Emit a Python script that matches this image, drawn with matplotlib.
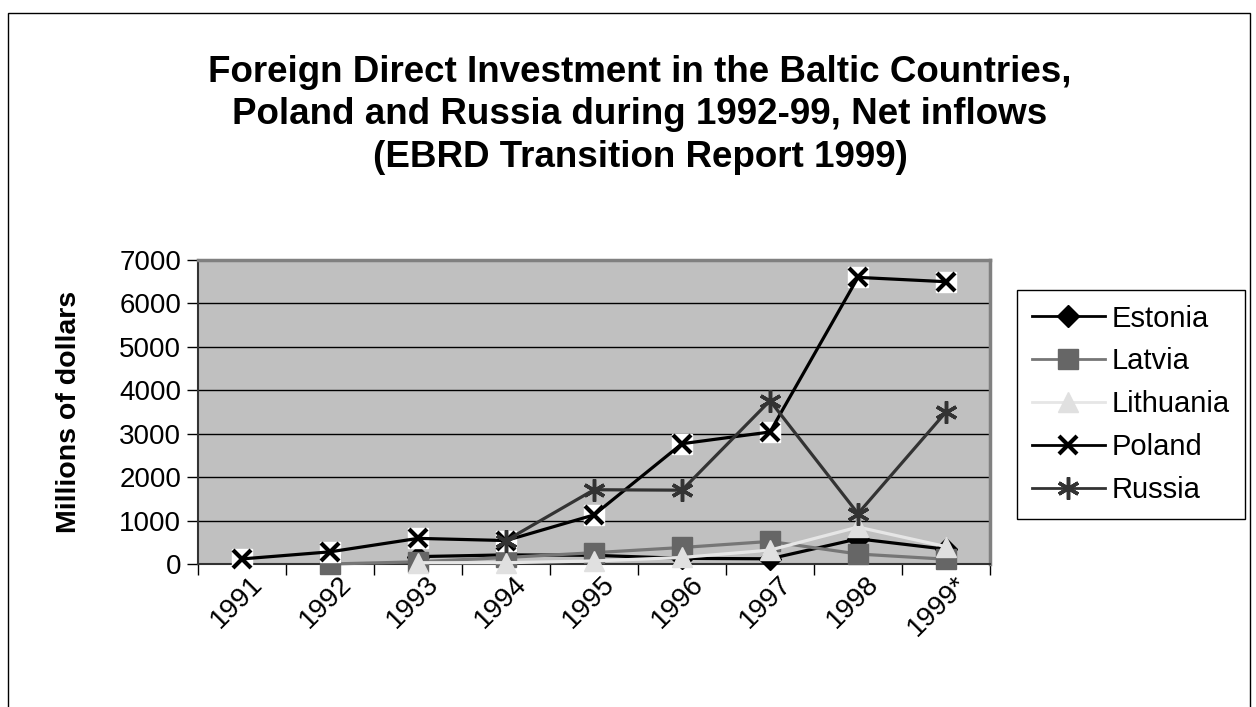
import matplotlib
matplotlib.use("Agg")
import matplotlib.pyplot as plt
from matplotlib.patches import Rectangle
from matplotlib.transforms import ScaledTranslation
import numpy as np

plt.rcParams['font.family'] = ['Liberation Sans', 'DejaVu Sans']

years = ["1991", "1992", "1993", "1994", "1995", "1996", "1997", "1998", "1999*"]
estonia = [None, None, 170, 210, 200, 130, 120, 580, 340]
latvia = [None, 0, 50, 150, 260, 380, 520, 230, 110]
lithuania = [None, None, 30, 30, 70, 150, 320, 850, 400]
poland = [117, 280, 590, 540, 1130, 2770, 3040, 6600, 6500]
russia = [None, None, None, 540, 1710, 1700, 3760, 1160, 3500]

W, H = 1256, 707
fig = plt.figure(figsize=(W / 100, H / 100), dpi=100)

# outer chart border
fig.patches.append(Rectangle((8 / W, -0.05), (1250 - 8) / W, 1.05 - 13 / H,
                             transform=fig.transFigure, fill=False,
                             edgecolor='black', linewidth=1.0))

ax = fig.add_axes([198 / W, 1 - 564 / H, (990 - 198) / W, (564 - 260) / H])
ax.set_facecolor('#C0C0C0')

x = np.arange(len(years))


def arr(v):
    return np.array([np.nan if a is None else a for a in v], dtype=float)


styles = [
    ("Estonia", estonia, dict(color='black', marker='D', ms=11, mfc='black', mec='black')),
    ("Latvia", latvia, dict(color='#767676', marker='s', ms=14, mfc='#666666', mec='#666666')),
    ("Lithuania", lithuania, dict(color='#e6e6e6', marker='^', ms=15, mfc='#e0e0e0', mec='#e0e0e0')),
    ("Poland", poland, dict(color='black', marker='x', ms=13, mew=3, mfc='black', mec='black')),
    ("Russia", russia, dict(color='#333333', marker=(6, 2, 0), ms=16, mew=2.5, mec='#333333')),
]

handles = []
for name, vals, st in styles:
    y = arr(vals)
    if name == "Poland":
        ax.plot(x, y, linestyle='none', marker='s', ms=14.5, mfc='white', mec='white',
                zorder=3, clip_on=False)
    h, = ax.plot(x, y, linewidth=2.3, label=name, zorder=3, clip_on=False, **st)
    handles.append(h)

ax.set_xlim(-0.5, len(years) - 0.5)
ax.set_ylim(0, 7000)
ax.set_yticks(np.arange(0, 7001, 1000))
ax.yaxis.grid(True, color='black', linewidth=1.0)
ax.set_axisbelow(True)
ax.tick_params(axis='y', direction='out', length=8, width=1, labelsize=20, pad=4)

ax.set_xticks(x)
ax.set_xticklabels(years, rotation=45, ha='right', va='top', rotation_mode='anchor')
ax.tick_params(axis='x', which='major', length=0, labelsize=20, pad=5)
offset = ScaledTranslation(8 / 100, 0, fig.dpi_scale_trans)
for lab in ax.get_xticklabels():
    lab.set_transform(lab.get_transform() + offset)
ax.set_xticks(np.arange(-0.5, len(years)), minor=True)
ax.tick_params(axis='x', which='minor', direction='out', length=8, width=1)

for s in ['top', 'right']:
    ax.spines[s].set_color('#808080')
    ax.spines[s].set_linewidth(2.5)
ax.spines['left'].set_color('#333333')
ax.spines['left'].set_linewidth(1.5)
ax.spines['bottom'].set_color('#333333')
ax.spines['bottom'].set_linewidth(1.5)

ax.set_ylabel("Millions of dollars", fontsize=20.5, fontweight='bold')
ax.yaxis.set_label_coords((82 - 198) / 792, 0.5)

fig.text(640 / W, 1 - 115 / H,
         "Foreign Direct Investment in the Baltic Countries,\n"
         "Poland and Russia during 1992-99, Net inflows\n"
         "(EBRD Transition Report 1999)",
         ha='center', va='center', fontsize=26.5, fontweight='bold', linespacing=1.28)

leg = ax.legend(handles=handles, loc='upper left', bbox_to_anchor=(1017 / W, 1 - 290 / H),
                bbox_transform=fig.transFigure, fontsize=21, frameon=True,
                fancybox=False, edgecolor='black', framealpha=1, borderpad=0.5,
                labelspacing=0.51, handlelength=2.5, handletextpad=0.25,
                borderaxespad=0)
leg.get_frame().set_linewidth(1.0)
for lh in leg.get_lines():
    lh.set_linewidth(2.0)

fig.savefig("out.png", dpi=100)
